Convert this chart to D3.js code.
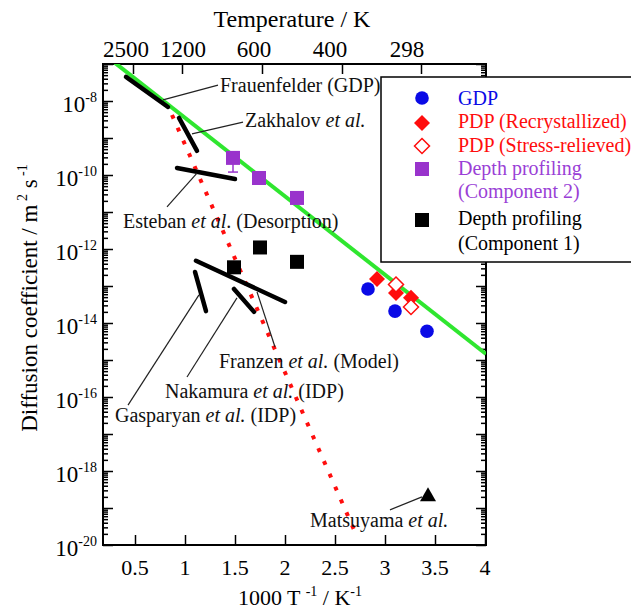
<!DOCTYPE html>
<html><head><meta charset="utf-8">
<script src="https://cdn.jsdelivr.net/npm/d3@7/dist/d3.min.js"></script>
<style>
body{margin:0;background:#fff;}
</style></head>
<body><svg id="c" width="631" height="614"></svg>
<script>
// ---------- data ----------
const xTicks = [0.5, 1, 1.5, 2, 2.5, 3, 3.5, 4];
const xTickLabels = ["0.5", "1", "1.5", "2", "2.5", "3", "3.5", "4"];
const yLabelExps = [-20, -18, -16, -14, -12, -10, -8];
const topTickLabels = ["2500", "1200", "600", "400", "298"];
const topTickPos = [0.48, 0.97, 1.77, 2.57, 3.36];
const topLabelPos = [0.41, 0.98, 1.69, 2.45, 3.22];

const gdpX = [2.83, 3.10, 3.42];
const gdpD = [8.3e-14, 2.1e-14, 6.0e-15];
const pdpRecX = [2.92, 3.11, 3.26];
const pdpRecD = [1.55e-13, 6.5e-14, 4.8e-14];
const pdpStrX = [3.11, 3.26];
const pdpStrD = [1.1e-13, 2.7e-14];
const comp2X = [1.48, 1.74, 2.12];
const comp2D = [2.9e-10, 8.3e-11, 2.4e-11];
const comp2ErrLow = [1.2e-10, null, null];
const comp1X = [1.49, 1.75, 2.12];
const comp1D = [3.2e-13, 1.1e-12, 4.5e-13];
const matsuyamaX = [3.43];
const matsuyamaD = [2.2e-19];

const greenX = [0.30, 4.01];
const greenD = [1.07e-7, 1.45e-15];
const redDotX = [0.87, 2.69];
const redDotD = [4.2e-9, 2.6e-20];

const segNames = ["Frauenfelder", "Zakhalov", "Esteban", "Franzen", "Gasparyan", "Nakamura"];
const segX = [[0.41, 0.83], [0.94, 1.12], [0.92, 1.50], [1.11, 2.00], [1.10, 1.21], [1.49, 1.69]];
const segD = [[4.5e-8, 6.9e-9], [3.5e-9, 4.5e-10], [1.55e-10, 7.8e-11], [4.8e-13, 3.7e-14], [2.4e-13, 2.1e-14], [8.3e-14, 2.0e-14]];

// annotation texts: [plain before, italic, plain after]
const annText = [
  ["Frauenfelder (GDP)", "", ""],
  ["Zakhalov ", "et al.", ""],
  ["Esteban ", "et al", ". (Desorption)"],
  ["Franzen ", "et al.", " (Model)"],
  ["Nakamura ", "et al.", " (IDP)"],
  ["Gasparyan ", "et al.", " (IDP)"],
  ["Matsuyama ", "et al.", ""]
];
const annTextX = [1.35, 1.60, 0.38, 1.34, 0.80, 0.30, 2.25];
const annTextExp = [-7.76, -8.70, -11.43, -15.22, -16.03, -16.68, -19.51];
const annLineX = [[0.78, 1.33], [1.07, 1.58], [1.12, 0.82], [1.72, 1.90], [1.52, 1.02], [1.14, 0.43], [3.05, 3.37]];
const annLineExp = [[-7.97, -7.57], [-8.89, -8.57], [-9.95, -10.86], [-13.16, -14.65], [-13.32, -15.46], [-13.24, -16.22], [-19.05, -18.70]];

const legendLabels = [["GDP"], ["PDP (Recrystallized)"], ["PDP (Stress-relieved)"], ["Depth profiling", "(Component 2)"], ["Depth profiling", "(Component 1)"]];

// ---------- styles ----------
const C = {blue: "#0a0ae6", red: "#ff0d0d", purple: "#9933cc", purpleText: "#9a3fd6", green: "#2fe62f", black: "#000"};
const FONT = '"Liberation Serif", monospace';

const L = 103, R = 486, T = 64, B = 545;
const svg = d3.select("#c");
const x = d3.scaleLinear().domain([0.18, 4.01]).range([L, R]);
const y = d3.scaleLog().domain([1e-20, 1e-7]).range([B, T]);

svg.append("defs").append("clipPath").attr("id", "clip")
  .append("rect").attr("x", L).attr("y", T).attr("width", R - L).attr("height", B - T);

// ---------- axes ----------
const majors = d3.range(-20, -6).map(e => Math.pow(10, e));
const minors = [];
for (let e = -20; e < -7; e++) for (let m = 2; m <= 9; m++) minors.push(m * Math.pow(10, e));

function styleAxis(g) {
  g.select(".domain").remove();
  g.selectAll("line").attr("stroke", "#000").attr("stroke-width", 1.5);
  g.selectAll("text").remove();
}
svg.append("g").attr("transform", `translate(${L},0)`).call(d3.axisRight(y).tickValues(majors).tickSize(10)).call(styleAxis);
svg.append("g").attr("transform", `translate(${L},0)`).call(d3.axisRight(y).tickValues(minors).tickSize(5)).call(styleAxis);
svg.append("g").attr("transform", `translate(${R},0)`).call(d3.axisLeft(y).tickValues(majors).tickSize(10)).call(styleAxis);
svg.append("g").attr("transform", `translate(${R},0)`).call(d3.axisLeft(y).tickValues(minors).tickSize(5)).call(styleAxis);
svg.append("g").attr("transform", `translate(0,${B})`).call(d3.axisTop(x).tickValues(xTicks).tickSize(10)).call(styleAxis);
svg.append("g").attr("transform", `translate(0,${T})`).call(d3.axisBottom(x).tickValues(topTickPos).tickSize(10)).call(styleAxis);

svg.append("rect").attr("x", L).attr("y", T).attr("width", R - L).attr("height", B - T)
  .attr("fill", "none").attr("stroke", "#000").attr("stroke-width", 2);

// tick labels
svg.append("g").selectAll("text").data(xTicks).join("text")
  .attr("x", d => x(d)).attr("y", 575).attr("text-anchor", "middle")
  .style("font-family", FONT).attr("font-size", 22).text((d, i) => xTickLabels[i]);

svg.append("g").selectAll("text").data(topLabelPos).join("text")
  .attr("x", d => x(d)).attr("y", 57).attr("text-anchor", "middle")
  .style("font-family", FONT).attr("font-size", 23).text((d, i) => topTickLabels[i]);

const yl = svg.append("g").selectAll("text").data(yLabelExps).join("text")
  .attr("x", 97).attr("y", d => y(Math.pow(10, d)) + 11).attr("text-anchor", "end")
  .style("font-family", FONT).attr("font-size", 23);
yl.append("tspan").text("10");
yl.append("tspan").attr("font-size", 14).attr("dy", -10).text(d => String(d));

// axis titles
svg.append("text").attr("x", 292).attr("y", 27).attr("text-anchor", "middle")
  .style("font-family", FONT).attr("font-size", 24).text("Temperature / K");
const bt = svg.append("text").attr("x", 300).attr("y", 605).attr("text-anchor", "middle")
  .style("font-family", FONT).attr("font-size", 22);
bt.append("tspan").text("1000 T ");
bt.append("tspan").attr("font-size", 14).attr("dy", -9).text("-1");
bt.append("tspan").attr("dy", 9).text("  / K");
bt.append("tspan").attr("font-size", 14).attr("dy", -9).text("-1");
const yt = svg.append("text").attr("transform", "translate(37,298) rotate(-90)").attr("text-anchor", "middle")
  .style("font-family", FONT).attr("font-size", 23);
yt.append("tspan").text("Diffusion coefficient / m");
yt.append("tspan").attr("font-size", 14).attr("dy", -10).text(" 2");
yt.append("tspan").attr("dy", 10).text(" s");
yt.append("tspan").attr("font-size", 14).attr("dy", -10).text(" -1");

// ---------- lines ----------
const plot = svg.append("g").attr("clip-path", "url(#clip)");
const line = d3.line().x(d => x(d[0])).y(d => y(d[1]));

plot.append("path").datum(greenX.map((v, i) => [v, greenD[i]])).attr("d", line)
  .attr("stroke", C.green).attr("stroke-width", 4).attr("fill", "none");

plot.append("path").datum(redDotX.map((v, i) => [v, redDotD[i]])).attr("d", line)
  .attr("stroke", C.red).attr("stroke-width", 4).attr("stroke-dasharray", "4,10").attr("fill", "none");

plot.selectAll(".seg").data(segX).join("path").attr("class", "seg")
  .attr("d", (d, i) => line([[d[0], segD[i][0]], [d[1], segD[i][1]]]))
  .attr("stroke", "#000").attr("stroke-width", 4.5).attr("stroke-linecap", "round").attr("fill", "none");

// annotation leaders
svg.append("g").selectAll("path").data(annLineX).join("path")
  .attr("d", (d, i) => line([[d[0], Math.pow(10, annLineExp[i][0])], [d[1], Math.pow(10, annLineExp[i][1])]]))
  .attr("stroke", "#222").attr("stroke-width", 1.2).attr("fill", "none");

// annotation text
const at = svg.append("g").selectAll("text").data(annText).join("text")
  .attr("x", (d, i) => x(annTextX[i])).attr("y", (d, i) => y(Math.pow(10, annTextExp[i])))
  .style("font-family", FONT).attr("font-size", 20).attr("fill", "#111");
at.append("tspan").text(d => d[0]);
at.append("tspan").attr("font-style", "italic").text(d => d[1]);
at.append("tspan").text(d => d[2]);

// ---------- markers ----------
const sq = 14;
function diamondPath(cx, cy, r) { return `M${cx},${cy - r}L${cx + r},${cy}L${cx},${cy + r}L${cx - r},${cy}Z`; }

// error bar for component 2
svg.append("g").selectAll("g").data(comp2X.map((v, i) => i).filter(i => comp2ErrLow[i] !== null)).join("g").each(function (i) {
  const g = d3.select(this);
  g.append("line").attr("x1", x(comp2X[i])).attr("x2", x(comp2X[i])).attr("y1", y(comp2D[i])).attr("y2", y(comp2ErrLow[i]))
    .attr("stroke", C.purple).attr("stroke-width", 1.5);
  g.append("line").attr("x1", x(comp2X[i]) - 5).attr("x2", x(comp2X[i]) + 5).attr("y1", y(comp2ErrLow[i])).attr("y2", y(comp2ErrLow[i]))
    .attr("stroke", C.purple).attr("stroke-width", 1.5);
});

svg.append("g").selectAll("rect").data(comp2X).join("rect")
  .attr("x", d => x(d) - sq / 2).attr("y", (d, i) => y(comp2D[i]) - sq / 2).attr("width", sq).attr("height", sq).attr("fill", C.purple);
svg.append("g").selectAll("rect").data(comp1X).join("rect")
  .attr("x", d => x(d) - sq / 2).attr("y", (d, i) => y(comp1D[i]) - sq / 2).attr("width", sq).attr("height", sq).attr("fill", "#000");
svg.append("g").selectAll("circle").data(gdpX).join("circle")
  .attr("cx", d => x(d)).attr("cy", (d, i) => y(gdpD[i])).attr("r", 6.8).attr("fill", C.blue);
svg.append("g").selectAll("path").data(pdpRecX).join("path")
  .attr("d", (d, i) => diamondPath(x(d), y(pdpRecD[i]), 8)).attr("fill", C.red);
svg.append("g").selectAll("path").data(pdpStrX).join("path")
  .attr("d", (d, i) => diamondPath(x(d), y(pdpStrD[i]), 7.5)).attr("fill", "#fff").attr("stroke", C.red).attr("stroke-width", 1.5);
svg.append("g").selectAll("path").data(matsuyamaX).join("path")
  .attr("d", (d, i) => { const cx = x(d), cy = y(matsuyamaD[i]); return `M${cx},${cy - 8}L${cx + 8},${cy + 6}L${cx - 8},${cy + 6}Z`; })
  .attr("fill", "#000");

// ---------- legend ----------
const lg = svg.append("g");
lg.append("rect").attr("x", 381).attr("y", 77).attr("width", 270).attr("height", 185)
  .attr("fill", "#fff").attr("stroke", "#000").attr("stroke-width", 1.5);
const mx = 422, tx = 458;
lg.append("circle").attr("cx", mx).attr("cy", 98).attr("r", 6.8).attr("fill", C.blue);
lg.append("path").attr("d", diamondPath(mx, 123, 8)).attr("fill", C.red);
lg.append("path").attr("d", diamondPath(mx, 146, 7.5)).attr("fill", "#fff").attr("stroke", C.red).attr("stroke-width", 1.5);
lg.append("rect").attr("x", mx - 7).attr("y", 162).attr("width", 14).attr("height", 14).attr("fill", C.purple);
lg.append("rect").attr("x", mx - 7).attr("y", 213).attr("width", 14).attr("height", 14).attr("fill", "#000");
const legendColors = [C.blue, C.red, C.red, C.purpleText, "#000"];
const legendBase = [[105], [128], [152], [175, 198], [225, 250]];
legendLabels.forEach((lines, i) => {
  lines.forEach((t, j) => {
    lg.append("text").attr("x", tx).attr("y", legendBase[i][j])
      .style("font-family", FONT).attr("font-size", 20)
      .attr("fill", legendColors[i]).text(t);
  });
});
</script></body></html>
